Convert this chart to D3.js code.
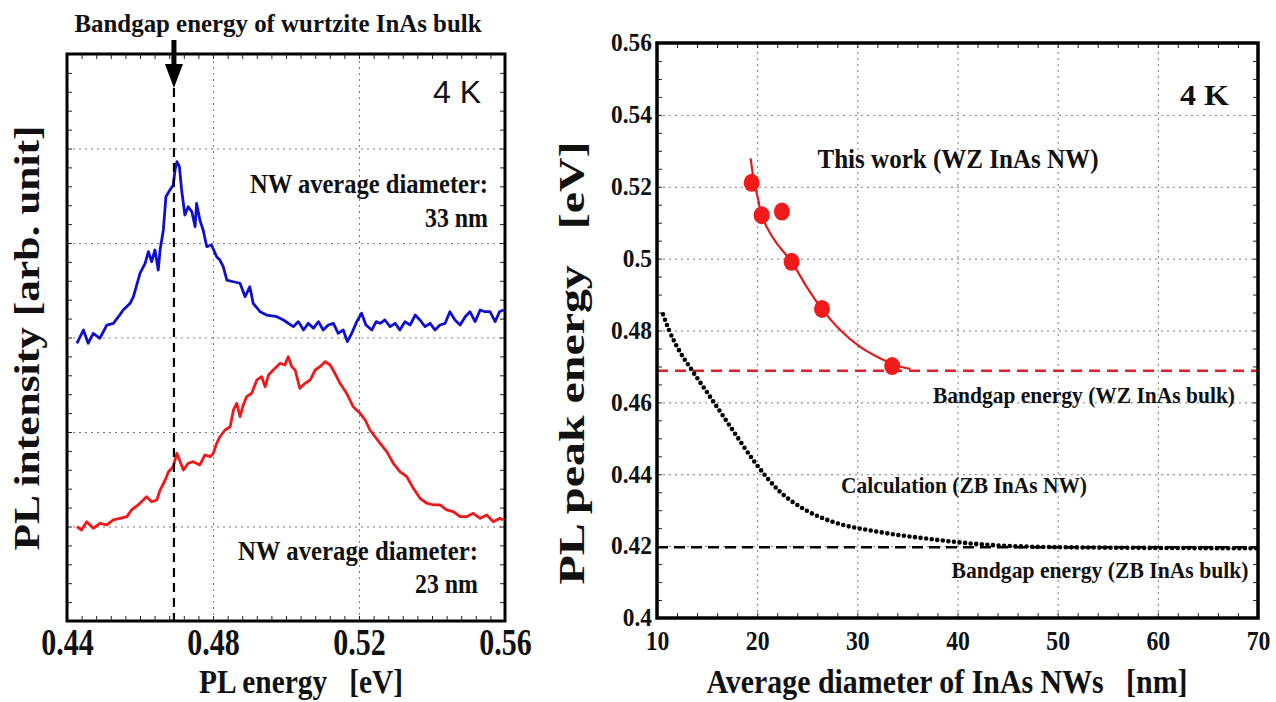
<!DOCTYPE html>
<html>
<head>
<meta charset="utf-8">
<script src="https://cdn.jsdelivr.net/npm/d3@7"></script>
<style>
  body { margin: 0; background: #fff; }
  text { font-family: "Liberation Serif", "Times New Roman", serif; font-weight: bold; fill: #111; }
  .grid line { stroke: #777; stroke-dasharray: 2, 4; }
  .grid path, .tk path, .lbl path { display: none; }
  .tk line { stroke: #222; }
</style>
</head>
<body>
<div class="draw"></div>
<script>
// ---------- left panel data (PL spectra, offset traces) ----------
const plEnergyTicks = [0.44, 0.48, 0.52, 0.56];
const intensityGrid = [1, 2, 3, 4, 5];
const wzMarkEnergy = 0.4693;

// NW average diameter 33 nm (blue)
const spectrum33 = [
  [0.4427, 2.939], [0.4445, 3.079], [0.4458, 2.939], [0.4472, 3.044], [0.4490, 2.992],
  [0.4509, 3.132], [0.4527, 3.150], [0.4541, 3.220], [0.4554, 3.291], [0.4573, 3.362],
  [0.4582, 3.432], [0.4600, 3.679], [0.4614, 3.785], [0.4623, 3.908], [0.4632, 3.802],
  [0.4641, 3.926], [0.4650, 3.714], [0.4655, 3.926], [0.4664, 4.138], [0.4671, 4.490],
  [0.4682, 4.561], [0.4691, 4.614], [0.4696, 4.772], [0.4701, 4.860], [0.4708, 4.807],
  [0.4714, 4.561], [0.4723, 4.296], [0.4732, 4.384], [0.4742, 4.331], [0.4751, 4.172],
  [0.4755, 4.420], [0.4764, 4.243], [0.4773, 4.138], [0.4783, 3.961], [0.4796, 3.979],
  [0.4810, 3.855], [0.4819, 3.820], [0.4828, 3.749], [0.4838, 3.608], [0.4856, 3.590],
  [0.4874, 3.574], [0.4888, 3.432], [0.4901, 3.538], [0.4910, 3.362], [0.4929, 3.273],
  [0.4947, 3.238], [0.4975, 3.220], [0.4993, 3.185], [0.5020, 3.115], [0.5034, 3.168],
  [0.5048, 3.079], [0.5061, 3.150], [0.5075, 3.097], [0.5089, 3.168], [0.5102, 3.079],
  [0.5116, 3.132], [0.5130, 3.150], [0.5143, 3.044], [0.5157, 3.079], [0.5168, 2.956],
  [0.5180, 3.044], [0.5194, 3.168], [0.5207, 3.256], [0.5219, 3.132], [0.5235, 3.079],
  [0.5247, 3.168], [0.5258, 3.150], [0.5271, 3.185], [0.5285, 3.115], [0.5299, 3.150],
  [0.5312, 3.079], [0.5326, 3.168], [0.5340, 3.132], [0.5354, 3.238], [0.5367, 3.185],
  [0.5381, 3.115], [0.5395, 3.150], [0.5408, 3.079], [0.5422, 3.132], [0.5436, 3.150],
  [0.5449, 3.273], [0.5463, 3.185], [0.5477, 3.132], [0.5491, 3.220], [0.5504, 3.273],
  [0.5518, 3.168], [0.5532, 3.291], [0.5545, 3.273], [0.5559, 3.273], [0.5573, 3.168],
  [0.5585, 3.273], [0.5596, 3.291]
];

// NW average diameter 23 nm (red)
const spectrum23 = [
  [0.4427, 0.998], [0.4440, 0.963], [0.4454, 1.051], [0.4472, 0.981], [0.4490, 1.034],
  [0.4509, 1.016], [0.4527, 1.069], [0.4545, 1.087], [0.4564, 1.104], [0.4577, 1.175],
  [0.4595, 1.228], [0.4609, 1.280], [0.4618, 1.315], [0.4632, 1.262], [0.4646, 1.280],
  [0.4655, 1.386], [0.4669, 1.492], [0.4678, 1.580], [0.4691, 1.633], [0.4701, 1.775],
  [0.4710, 1.686], [0.4719, 1.598], [0.4732, 1.669], [0.4746, 1.686], [0.4764, 1.651],
  [0.4778, 1.757], [0.4792, 1.739], [0.4801, 1.775], [0.4810, 1.880], [0.4819, 1.950],
  [0.4833, 2.021], [0.4847, 2.056], [0.4856, 2.233], [0.4865, 2.304], [0.4874, 2.162],
  [0.4883, 2.286], [0.4892, 2.374], [0.4906, 2.410], [0.4920, 2.550], [0.4933, 2.585],
  [0.4943, 2.479], [0.4952, 2.603], [0.4965, 2.656], [0.4984, 2.727], [0.4997, 2.709],
  [0.5006, 2.797], [0.5016, 2.691], [0.5025, 2.656], [0.5038, 2.462], [0.5052, 2.515],
  [0.5066, 2.550], [0.5080, 2.656], [0.5093, 2.691], [0.5107, 2.744], [0.5121, 2.709],
  [0.5134, 2.621], [0.5148, 2.515], [0.5166, 2.410], [0.5184, 2.268], [0.5203, 2.198],
  [0.5217, 2.127], [0.5230, 2.021], [0.5244, 1.950], [0.5258, 1.880], [0.5276, 1.792],
  [0.5294, 1.669], [0.5312, 1.580], [0.5331, 1.527], [0.5349, 1.404], [0.5367, 1.298],
  [0.5386, 1.246], [0.5404, 1.228], [0.5422, 1.228], [0.5440, 1.175], [0.5458, 1.157],
  [0.5477, 1.104], [0.5495, 1.104], [0.5513, 1.140], [0.5532, 1.087], [0.5550, 1.122],
  [0.5568, 1.051], [0.5586, 1.087], [0.5595, 1.069]
];

// ---------- right panel data ----------
const diameterTicks = [10, 20, 30, 40, 50, 60, 70];
const peakTicks = [0.4, 0.42, 0.44, 0.46, 0.48, 0.5, 0.52, 0.54, 0.56];
const nwDiameter = [19.45, 20.45, 22.47, 23.44, 26.47, 33.48];
const nwPeak = [0.5211, 0.5121, 0.5131, 0.4991, 0.4860, 0.4701];
const fitCurve = [
  [19.35, 0.5279], [19.61, 0.5228], [20.11, 0.5163], [20.44, 0.5121], [20.94, 0.5089],
  [21.94, 0.5043], [23.44, 0.4991], [24.93, 0.4922], [26.46, 0.4860], [28.26, 0.4802],
  [30.25, 0.4755], [32.25, 0.4723], [34.24, 0.4700], [35.30, 0.4693]
];
const calcCurve = [
  [10.6, 0.4845], [11.2, 0.4801], [12.3, 0.4740], [13.47, 0.4690], [15.29, 0.4616],
  [17.55, 0.4523], [19.83, 0.4431], [22.1, 0.4356], [24.8, 0.4301], [27.5, 0.4268],
  [32.06, 0.4240], [36.6, 0.4222], [43.4, 0.4203], [50.2, 0.4197], [60, 0.4195], [70, 0.4194]
];
const wzBulkGap = 0.4688;
const zbBulkGap = 0.4197;

// ---------- helpers ----------
const serif = "'Liberation Serif', 'Times New Roman', serif";

const svg = d3.select(".draw").append("svg")
  .attr("width", 1276)
  .attr("height", 702);

function label(g, str, x, y, size, width, anchor, rot) {
  const t = g.append("text")
    .attr("x", x)
    .attr("y", y)
    .attr("text-anchor", anchor || "middle")
    .style("font-size", size + "px")
    .style("white-space", "pre")
    .text(str);
  if (width) t.attr("textLength", width).attr("lengthAdjust", "spacingAndGlyphs");
  if (rot) t.attr("transform", `rotate(-90, ${x}, ${y})`);
  return t;
}

function ticks(g, x, y, w, h, xVals, yVals, len) {
  g.append("g").attr("class", "tk").attr("transform", `translate(0,${h})`)
    .call(d3.axisBottom(x).tickValues(xVals).tickSize(-len).tickFormat(""));
  g.append("g").attr("class", "tk")
    .call(d3.axisTop(x).tickValues(xVals).tickSize(-len).tickFormat(""));
  g.append("g").attr("class", "tk")
    .call(d3.axisLeft(y).tickValues(yVals).tickSize(-len).tickFormat(""));
  g.append("g").attr("class", "tk").attr("transform", `translate(${w},0)`)
    .call(d3.axisRight(y).tickValues(yVals).tickSize(-len).tickFormat(""));
}

function grid(g, x, y, w, h, xVals, yVals) {
  g.append("g").attr("class", "grid").attr("transform", `translate(0,${h})`)
    .call(d3.axisBottom(x).tickValues(xVals).tickSize(-h).tickFormat(""));
  g.append("g").attr("class", "grid")
    .call(d3.axisLeft(y).tickValues(yVals).tickSize(-w).tickFormat(""));
}

// ================= LEFT PANEL =================
const m1 = { left: 67, top: 54 };
const w1 = 438, h1 = 567;
const g1 = svg.append("g").attr("transform", `translate(${m1.left},${m1.top})`);

const x1 = d3.scaleLinear().domain([0.44, 0.56]).range([0, w1]);
const y1 = d3.scaleLinear().domain([0, 6]).range([h1, 0]);

grid(g1, x1, y1, w1, h1, [0.48, 0.52], intensityGrid);
ticks(g1, x1, y1, w1, h1, d3.range(0, 31).map(i => 0.44 + i * 0.004), d3.range(0, 31).map(i => i * 0.2), 5);

const line1 = d3.line().x(d => x1(d[0])).y(d => y1(d[1]));

g1.append("path").datum(spectrum33)
  .attr("fill", "none").attr("stroke", "#1010cc").attr("stroke-width", 2.8)
  .attr("stroke-linejoin", "round").attr("d", line1);
g1.append("path").datum(spectrum23)
  .attr("fill", "none").attr("stroke", "#f01818").attr("stroke-width", 2.8)
  .attr("stroke-linejoin", "round").attr("d", line1);

// wurtzite bandgap marker
g1.append("line")
  .attr("x1", x1(wzMarkEnergy)).attr("x2", x1(wzMarkEnergy))
  .attr("y1", 34).attr("y2", h1)
  .attr("stroke", "#000").attr("stroke-width", 2.2).attr("stroke-dasharray", "9,6");

g1.append("rect").attr("width", w1).attr("height", h1)
  .attr("fill", "none").attr("stroke", "#000").attr("stroke-width", 3);

// arrow
const ax = x1(wzMarkEnergy);
g1.append("rect").attr("x", ax - 2.5).attr("y", -14).attr("width", 5).attr("height", 26).attr("fill", "#000");
g1.append("path")
  .attr("d", `M${ax - 9},${10} L${ax + 9},${10} L${ax},${34} Z`)
  .attr("fill", "#000");

// x labels
const xl1 = g1.append("g").attr("class", "lbl").attr("transform", `translate(0,${h1})`)
  .call(d3.axisBottom(x1).tickValues(plEnergyTicks).tickSize(0).tickFormat(d3.format(".2f")));
xl1.selectAll("text")
  .attr("y", 34).attr("dy", 0)
  .style("font-family", serif)
  .style("font-weight", "bold")
  .style("font-size", "38px")
  .attr("transform", "scale(0.79,1)");

label(svg, "PL energy   [eV]", 301, 693, 34, 204);
label(svg, "PL intensity [arb. unit]", 39, 338, 36, 425, "middle", true);
label(svg, "Bandgap energy of wurtzite InAs bulk", 278, 32, 26, 407);

svg.append("text")
  .attr("x", 481).attr("y", 103).attr("text-anchor", "end")
  .style("font-family", "'Liberation Sans', Arial, sans-serif")
  .style("font-weight", "normal")
  .style("font-size", "32px")
  .text("4 K");

label(svg, "NW average diameter:", 488, 193, 27, 238, "end");
label(svg, "33 nm", 488, 227, 27, 63, "end");
label(svg, "NW average diameter:", 478, 560, 27, 240, "end");
label(svg, "23 nm", 478, 593, 27, 63, "end");

// ================= RIGHT PANEL =================
const m2 = { left: 657, top: 43 };
const w2 = 601, h2 = 575;
const g2 = svg.append("g").attr("transform", `translate(${m2.left},${m2.top})`);

const x2 = d3.scaleLinear().domain([10, 70]).range([0, w2]);
const y2 = d3.scaleLinear().domain([0.4, 0.56]).range([h2, 0]);

grid(g2, x2, y2, w2, h2, diameterTicks.slice(1, -1), peakTicks.slice(1, -1));
ticks(g2, x2, y2, w2, h2, d3.range(10, 71, 2), d3.range(0, 33).map(i => 0.4 + i * 0.005), 5);

// bulk bandgaps
g2.append("line")
  .attr("x1", 0).attr("x2", w2)
  .attr("y1", y2(wzBulkGap)).attr("y2", y2(wzBulkGap))
  .attr("stroke", "#dc2228").attr("stroke-width", 2.6).attr("stroke-dasharray", "11,7");
g2.append("line")
  .attr("x1", 0).attr("x2", w2)
  .attr("y1", y2(zbBulkGap)).attr("y2", y2(zbBulkGap))
  .attr("stroke", "#000").attr("stroke-width", 2.6).attr("stroke-dasharray", "11,6");

// calculation (ZB InAs NW)
g2.append("path").datum(calcCurve)
  .attr("fill", "none").attr("stroke", "#000").attr("stroke-width", 4.6)
  .attr("stroke-linecap", "round").attr("stroke-dasharray", "0,5.6")
  .attr("d", d3.line().x(d => x2(d[0])).y(d => y2(d[1])).curve(d3.curveMonotoneX));

// fit of this work
g2.append("path").datum(fitCurve)
  .attr("fill", "none").attr("stroke", "#e01b1b").attr("stroke-width", 2.2)
  .attr("d", d3.line().x(d => x2(d[0])).y(d => y2(d[1])).curve(d3.curveCatmullRom));

g2.selectAll("ellipse.pt").data(nwDiameter)
  .enter().append("ellipse")
  .attr("class", "pt")
  .attr("cx", d => x2(d))
  .attr("cy", (d, i) => y2(nwPeak[i]))
  .attr("rx", 8).attr("ry", 9)
  .attr("fill", "#f01a1a");

g2.append("rect").attr("width", w2).attr("height", h2)
  .attr("fill", "none").attr("stroke", "#000").attr("stroke-width", 3.5);

// axis labels
const yl2 = g2.append("g").attr("class", "lbl")
  .call(d3.axisLeft(y2).tickValues(peakTicks).tickSize(0).tickFormat(d => String(+d.toFixed(2))));
yl2.selectAll("text")
  .attr("x", -5 / 0.9).attr("dy", "0.3em")
  .style("font-family", serif)
  .style("font-weight", "bold")
  .style("font-size", "26px")
  .attr("transform", "scale(0.9,1)");

const xl2 = g2.append("g").attr("class", "lbl").attr("transform", `translate(0,${h2})`)
  .call(d3.axisBottom(x2).tickValues(diameterTicks).tickSize(0));
xl2.selectAll("text")
  .attr("y", 32).attr("dy", 0)
  .style("font-family", serif)
  .style("font-weight", "bold")
  .style("font-size", "27px")
  .attr("transform", "scale(0.88,1)");

label(svg, "Average diameter of InAs NWs   [nm]", 947, 693, 34, 481);
label(svg, "PL peak energy   [eV]", 584, 363, 36, 443, "middle", true);

label(svg, "4 K", 1229, 105, 29, 49, "end");
label(svg, "This work (WZ InAs NW)", 958, 168, 28, 281);
label(svg, "Bandgap energy (WZ InAs bulk)", 1084, 403, 23, 302);
label(svg, "Calculation (ZB InAs NW)", 964, 493, 23, 246);
label(svg, "Bandgap energy (ZB InAs bulk)", 1100, 578, 23, 297);
</script>
</body>
</html>
